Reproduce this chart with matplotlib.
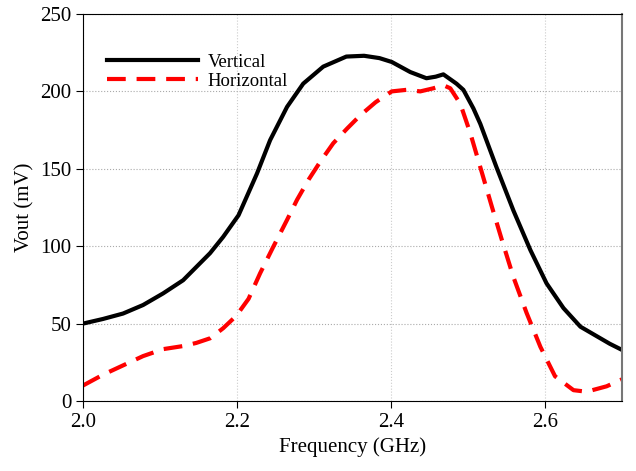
import numpy as np
import matplotlib.pyplot as plt

plt.rcParams['font.family'] = ['Liberation Serif', 'DejaVu Serif']

freq_v = [2.0, 2.026, 2.052, 2.078, 2.104, 2.13, 2.165, 2.182, 2.202, 2.226,
          2.243, 2.265, 2.286, 2.312, 2.342, 2.365, 2.385, 2.401, 2.425, 2.446,
          2.458, 2.468, 2.485, 2.494, 2.507, 2.516, 2.537, 2.559, 2.581, 2.602,
          2.624, 2.646, 2.684, 2.7]
vertical = [50, 53, 56.5, 62, 69.5, 78, 95.5, 106, 120, 147,
            168.5, 190, 205, 216, 222.5, 223, 221.5, 219, 212.5, 208.5,
            209.5, 211, 205, 201, 189, 179, 151, 123, 97.5, 76,
            60, 48, 37, 33]

freq_h = [2.0, 2.026, 2.052, 2.078, 2.104, 2.13, 2.147, 2.165, 2.182, 2.199,
          2.215, 2.23, 2.247, 2.265, 2.278, 2.293, 2.308, 2.325, 2.343, 2.36,
          2.38, 2.401, 2.42, 2.438, 2.455, 2.468, 2.477, 2.49, 2.503, 2.516,
          2.531, 2.544, 2.559, 2.576, 2.594, 2.613, 2.637, 2.654, 2.68, 2.7]
horizontal = [10, 17, 23, 29, 33.5, 35.5, 37.5, 40.5, 47, 55,
              66, 82.5, 99.5, 117, 130, 143, 154.5, 166.5, 176, 184.5,
              193, 200, 201, 200, 202, 204, 202, 192, 173, 151,
              125.5, 104, 80, 57, 35, 16, 7, 6, 9.5, 14]

fig = plt.figure(figsize=(6.36, 4.71), dpi=100)
ax = fig.add_axes([0.1305, 0.1486, 0.8475, 0.8217])

ax.plot(freq_v, vertical, color='black', lw=3, solid_joinstyle='round',
        label='Vertical')
ax.plot(freq_h, horizontal, color='red', lw=3, ls=(0, (4.5, 2.6)),
        dash_joinstyle='round', label='Horizontal')

ax.set_xlim(2.0, 2.7)
ax.set_ylim(0, 250)
ax.set_xticks([2.0, 2.2, 2.4, 2.6])
ax.set_xticklabels(['2.0', '2.2', '2.4', '2.6'])
ax.set_yticks([0, 50, 100, 150, 200, 250])
ax.tick_params(direction='out', labelsize=15, length=5)
ax.set_xlabel('Frequency (GHz)', fontsize=15)
ax.set_ylabel('Vout (mV)', fontsize=15)

ax.grid(axis='y', ls=':', color='#aaaaaa', lw=0.8)
ax.grid(axis='x', ls=':', color='#cccccc', lw=0.8)
ax.spines['right'].set_color('#777777')
ax.spines['right'].set_linewidth(1.5)

ax.legend(loc='upper left', frameon=False, fontsize=13.5, handlelength=4.85,
          handletextpad=0.5, bbox_to_anchor=(0.0306, 0.917), borderaxespad=0,
          labelspacing=0.1)

fig.savefig('out.png', dpi=100)
